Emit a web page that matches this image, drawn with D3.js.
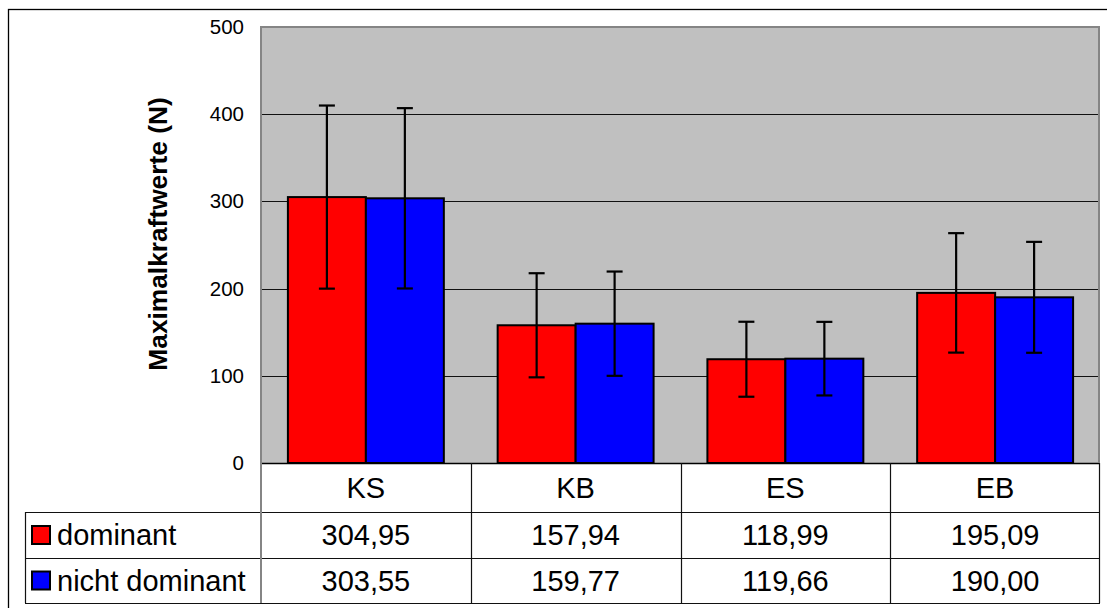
<!DOCTYPE html>
<html>
<head>
<meta charset="utf-8">
<script src="https://cdn.jsdelivr.net/npm/d3@7"></script>
<style>
  html, body { margin: 0; padding: 0; background: #fff; }
  svg { display: block; font-family: "Liberation Sans", Arial, sans-serif; }
</style>
</head>
<body>
<svg id="chart" width="1107" height="608"></svg>
<script>
// Maximalkraftwerte (N) je Testbedingung, dominante vs. nicht dominante Seite
const categories = ["KS", "KB", "ES", "EB"];
const seriesNames = ["dominant", "nicht dominant"];
const dominant = [304.95, 157.94, 118.99, 195.09];
const nichtDominant = [303.55, 159.77, 119.66, 190.00];
// Standardabweichungen (Fehlerbalken)
const sdDominant = [105.0, 59.7, 43.0, 68.5];
const sdNichtDominant = [103.4, 59.8, 42.2, 63.6];
const yTicks = [0, 100, 200, 300, 400, 500];
const yTitle = "Maximalkraftwerte (N)";

const colors = ["#ff0000", "#0000ff"];
const series = [
  { name: seriesNames[0], values: dominant, sd: sdDominant, color: colors[0] },
  { name: seriesNames[1], values: nichtDominant, sd: sdNichtDominant, color: colors[1] }
];

const de = d3.formatLocale({ decimal: ",", thousands: ".", grouping: [3], currency: ["", " €"] });
const fmt = de.format(".2f");

const svg = d3.select("#chart");

// layout
const plotLeft = 261, plotRight = 1100, plotTop = 27, plotBottom = 463;
const tableLeft = 25;
const rowEdges = [463, 512, 558, 603];
const tableFont = 29;

const x = d3.scaleBand().domain(categories).range([plotLeft, plotRight]).padding(0);
const xs = d3.scaleBand().domain(seriesNames).range([0, x.bandwidth()])
  .paddingInner(0).paddingOuter(0.345);
const y = d3.scaleLinear().domain([0, 500]).range([plotBottom, plotTop]);

// outer frame
svg.append("rect")
  .attr("x", 8.5).attr("y", 9.5).attr("width", 1110).attr("height", 610)
  .attr("fill", "#fff").attr("stroke", "#000").attr("stroke-width", 1.3);

// plot background
svg.append("rect")
  .attr("x", plotLeft).attr("y", plotTop)
  .attr("width", plotRight - plotLeft).attr("height", plotBottom - plotTop)
  .attr("fill", "#c0c0c0");

// gridlines
svg.append("g")
  .selectAll("line")
  .data(yTicks.filter(d => d > 0 && d < 500))
  .join("line")
  .attr("x1", plotLeft).attr("x2", plotRight)
  .attr("y1", d => Math.round(y(d)) + 0.5).attr("y2", d => Math.round(y(d)) + 0.5)
  .attr("stroke", "#111").attr("stroke-width", 1.1);

// y axis labels
const yAxis = d3.axisLeft(y).tickValues(yTicks).tickSize(0).tickPadding(17);
const gy = svg.append("g").attr("transform", `translate(${plotLeft},0)`).call(yAxis);
gy.select(".domain").remove();
gy.selectAll("text")
  .attr("font-size", 20.5).attr("fill", "#000")
  .attr("font-family", "'Liberation Sans', Arial, sans-serif");

// y axis title
svg.append("text")
  .attr("transform", `translate(167,234) rotate(-90)`)
  .attr("text-anchor", "middle")
  .attr("font-size", 26.3).attr("font-weight", "bold")
  .text(yTitle);

// bars
const barGroups = svg.append("g")
  .selectAll("g")
  .data(series)
  .join("g");

barGroups.selectAll("rect")
  .data(s => categories.map((c, i) => ({ c, v: s.values[i], sd: s.sd[i], s })))
  .join("rect")
  .attr("x", d => x(d.c) + xs(d.s.name))
  .attr("y", d => y(d.v))
  .attr("width", xs.bandwidth())
  .attr("height", d => y(0) - y(d.v))
  .attr("fill", d => d.s.color)
  .attr("stroke", "#000").attr("stroke-width", 2);

// error bars
const errData = series.flatMap(s => categories.map((c, i) => ({ c, v: s.values[i], sd: s.sd[i], s })));
const eg = svg.append("g").attr("stroke", "#000").attr("stroke-width", 2.2);
const cx = d => x(d.c) + xs(d.s.name) + xs.bandwidth() / 2;
eg.selectAll("line.v").data(errData).join("line").attr("class", "v")
  .attr("x1", cx).attr("x2", cx)
  .attr("y1", d => y(d.v + d.sd)).attr("y2", d => y(d.v - d.sd));
eg.selectAll("line.t").data(errData).join("line").attr("class", "t")
  .attr("x1", d => cx(d) - 8).attr("x2", d => cx(d) + 8)
  .attr("y1", d => y(d.v + d.sd)).attr("y2", d => y(d.v + d.sd));
eg.selectAll("line.b").data(errData).join("line").attr("class", "b")
  .attr("x1", d => cx(d) - 8).attr("x2", d => cx(d) + 8)
  .attr("y1", d => y(d.v - d.sd)).attr("y2", d => y(d.v - d.sd));

// data table
const tg = svg.append("g");
// horizontal rules
tg.append("line")
  .attr("x1", plotLeft).attr("x2", plotRight)
  .attr("y1", rowEdges[0] + 0.5).attr("y2", rowEdges[0] + 0.5)
  .attr("stroke", "#000").attr("stroke-width", 1.5);
[rowEdges[1], rowEdges[2], rowEdges[3]].forEach(yy => {
  tg.append("line")
    .attr("x1", tableLeft).attr("x2", plotRight)
    .attr("y1", yy + 0.5).attr("y2", yy + 0.5)
    .attr("stroke", "#111").attr("stroke-width", 1.2);
});
// vertical rules
tg.append("line")
  .attr("x1", tableLeft + 0.5).attr("x2", tableLeft + 0.5)
  .attr("y1", rowEdges[1]).attr("y2", rowEdges[3])
  .attr("stroke", "#111").attr("stroke-width", 1.2);
categories.slice(1).forEach(c => {
  tg.append("line")
    .attr("x1", Math.round(x(c)) + 0.5).attr("x2", Math.round(x(c)) + 0.5)
    .attr("y1", rowEdges[0]).attr("y2", rowEdges[3])
    .attr("stroke", "#111").attr("stroke-width", 1.2);
});
tg.append("line")
  .attr("x1", plotRight - 0.5).attr("x2", plotRight - 0.5)
  .attr("y1", rowEdges[0]).attr("y2", rowEdges[3])
  .attr("stroke", "#111").attr("stroke-width", 1.2);

// plot frame (gray), left edge runs down through the table
const frame = svg.append("g").attr("stroke", "#858585").attr("stroke-width", 2).attr("fill", "none");
frame.append("path")
  .attr("d", `M${plotLeft},${rowEdges[3]}V${plotTop}H${plotRight - 1}V${plotBottom}`);

// category labels
tg.selectAll("text.cat").data(categories).join("text").attr("class", "cat")
  .attr("x", d => x(d) + x.bandwidth() / 2)
  .attr("y", (rowEdges[0] + rowEdges[1]) / 2)
  .attr("dy", "0.36em")
  .attr("text-anchor", "middle")
  .attr("font-size", tableFont)
  .text(d => d);

// value rows
series.forEach((s, si) => {
  const rowMid = (rowEdges[si + 1] + rowEdges[si + 2]) / 2;
  tg.selectAll(`text.val${si}`).data(categories).join("text").attr("class", `val${si}`)
    .attr("x", d => x(d) + x.bandwidth() / 2)
    .attr("y", rowMid)
    .attr("dy", "0.36em")
    .attr("text-anchor", "middle")
    .attr("font-size", tableFont)
    .text((d, i) => fmt(s.values[i]));
  // legend swatch + name
  tg.append("rect")
    .attr("x", 32).attr("y", rowMid - 9)
    .attr("width", 18).attr("height", 18)
    .attr("fill", s.color).attr("stroke", "#000").attr("stroke-width", 2);
  tg.append("text")
    .attr("x", 57).attr("y", rowMid)
    .attr("dy", "0.36em")
    .attr("font-size", tableFont)
    .text(s.name);
});
</script>
</body>
</html>
